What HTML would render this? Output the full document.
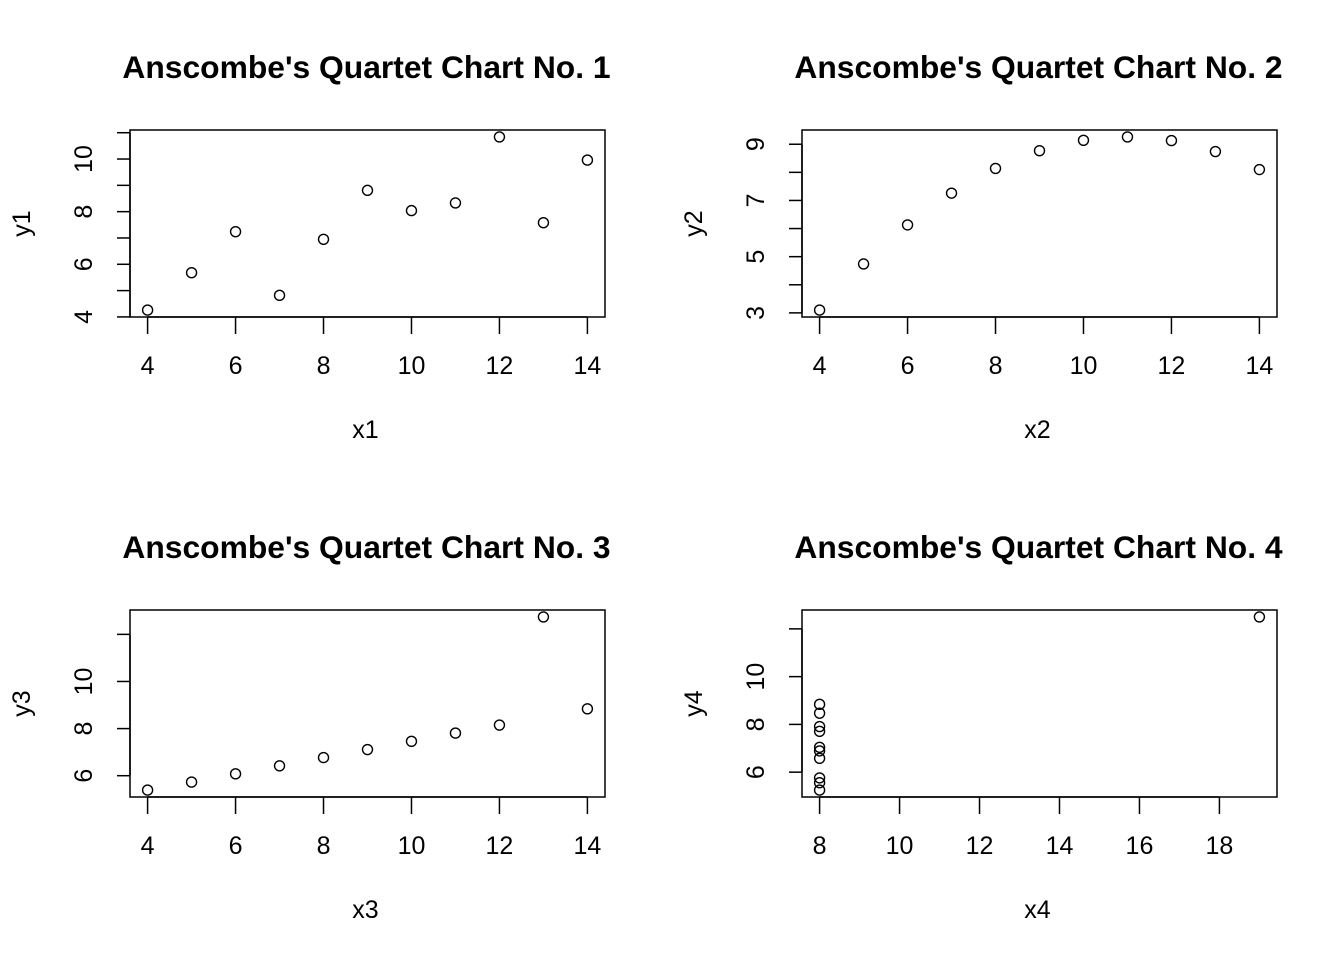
<!DOCTYPE html>
<html><head><meta charset="utf-8"><style>
body{margin:0;background:#fff}
svg text{font-family:"Liberation Sans",Arial,sans-serif;fill:#000}
</style></head><body>
<svg id="c" width="1344" height="960" xmlns="http://www.w3.org/2000/svg"></svg>
<script>
const xs123 = [10,8,13,9,11,14,6,4,12,7,5];
const y1 = [8.04,6.95,7.58,8.81,8.33,9.96,7.24,4.26,10.84,4.82,5.68];
const y2 = [9.14,8.14,8.74,8.77,9.26,8.10,6.13,3.10,9.13,7.26,4.74];
const y3 = [7.46,6.77,12.74,7.11,7.81,8.84,6.08,5.39,8.15,6.42,5.73];
const x4 = [8,8,8,8,8,8,8,19,8,8,8];
const y4 = [6.58,5.76,7.71,8.84,8.47,7.04,5.25,12.50,5.56,7.91,6.89];
const xTicks123 = [4,6,8,10,12,14];
const xTicks4 = [8,10,12,14,16,18];
const yTicks1 = [4,5,6,7,8,9,10,11], yLabels1 = [4,6,8,10];
const yTicks2 = [3,4,5,6,7,8,9], yLabels2 = [3,5,7,9];
const yTicks3 = [6,8,10,12], yLabels3 = [6,8,10];
const yTicks4 = [6,8,10,12], yLabels4 = [6,8,10];

const svg = document.getElementById('c');
const NS = 'http://www.w3.org/2000/svg';
function mk(tag, attrs, parent){const e=document.createElementNS(NS,tag);for(const k in attrs)e.setAttribute(k,attrs[k]);parent.appendChild(e);return e;}

function panel(n, L, T, xv, yv, xt, yt, yl, xlab, ylab){
  const R=L+475, B=T+187;
  const g = mk('g',{},svg);
  
  
  const xmin=Math.min(...xv), xmax=Math.max(...xv), ymin=Math.min(...yv), ymax=Math.max(...yv);
  const x0=xmin-(xmax-xmin)*0.04, x1=xmax+(xmax-xmin)*0.04;
  const y0=ymin-(ymax-ymin)*0.04, y1v=ymax+(ymax-ymin)*0.04;
  const sx=v=>L+(v-x0)/(x1-x0)*(R-L);
  const sy=v=>B-(v-y0)/(y1v-y0)*(B-T);
  const t = mk('text',{x:(L+R)/2-1,y:T-52,'text-anchor':'middle','font-size':'31.8','font-weight':'bold'},g);
  t.textContent="Anscombe's Quartet Chart No. "+n;
  
  
  const box = mk('rect',{x:L,y:T,width:R-L,height:B-T,fill:'none',stroke:'#000','stroke-width':1.5},g);
  
  
  const xa = mk('g',{},g);
  
  
  mk('line',{x1:sx(xt[0]),x2:sx(xt[xt.length-1]),y1:B,y2:B,stroke:'#000','stroke-width':1.5},xa);
  xt.forEach(v=>{
    mk('line',{x1:sx(v),x2:sx(v),y1:B,y2:B+17,stroke:'#000','stroke-width':1.5},xa);
    const tx=mk('text',{x:sx(v),y:B+57,'text-anchor':'middle','font-size':'25'},xa);
    tx.textContent=v;
    
    
  });
  const ya = mk('g',{},g);
  
  
  mk('line',{x1:L,x2:L,y1:sy(yt[0]),y2:sy(yt[yt.length-1]),stroke:'#000','stroke-width':1.5},ya);
  yt.forEach(v=>{
    mk('line',{x1:L-13,x2:L,y1:sy(v),y2:sy(v),stroke:'#000','stroke-width':1.5},ya);
  });
  yl.forEach(v=>{
    const tx=mk('text',{x:0,y:0,'text-anchor':'middle','font-size':'25',transform:`translate(${L-38},${sy(v)}) rotate(-90)`},ya);
    tx.textContent=v;
    
    
  });
  const xl=mk('text',{x:(L+R)/2-2,y:B+121,'text-anchor':'middle','font-size':'25'},g);
  xl.textContent=xlab;
  
  
  const ylt=mk('text',{x:0,y:0,'text-anchor':'middle','font-size':'25',transform:`translate(${L-100},${(T+B)/2}) rotate(-90)`},g);
  ylt.textContent=ylab;
  
  
  xv.forEach((v,i)=>{
    const c=mk('circle',{cx:sx(v),cy:sy(yv[i]),r:5,fill:'none',stroke:'#000','stroke-width':1.4},g);
    
    
  });
}
panel(1,130,130,xs123,y1,xTicks123,yTicks1,yLabels1,'x1','y1');
panel(2,802,130,xs123,y2,xTicks123,yTicks2,yLabels2,'x2','y2');
panel(3,130,610,xs123,y3,xTicks123,yTicks3,yLabels3,'x3','y3');
panel(4,802,610,x4,y4,xTicks4,yTicks4,yLabels4,'x4','y4');
</script>
</body></html>
